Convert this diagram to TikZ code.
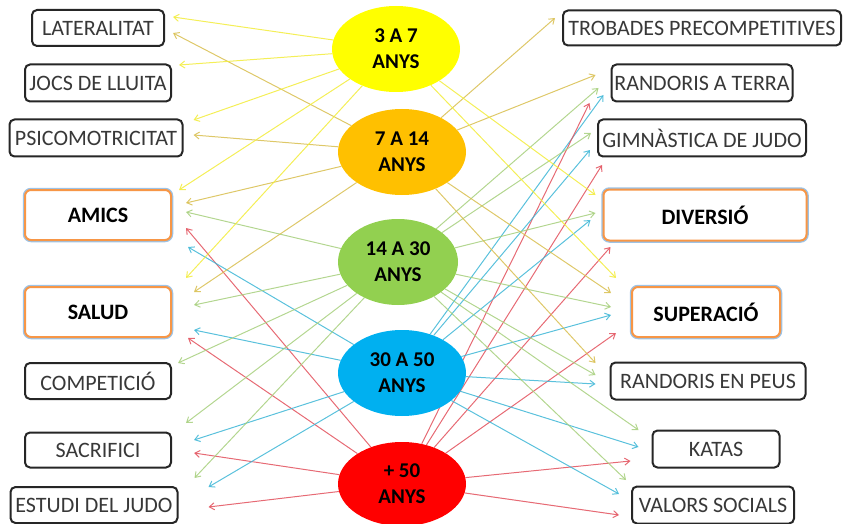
\documentclass[tikz,border=0pt]{standalone}
\usepackage{fontspec}
\setmainfont{Carlito}
\usetikzlibrary{positioning, arrows.meta, shapes, calc, backgrounds}
\definecolor{groc}{HTML}{FFFF00}
\definecolor{taronja}{HTML}{FFC000}
\definecolor{verd}{HTML}{92D050}
\definecolor{blau}{HTML}{00B0F0}
\definecolor{vermell}{HTML}{FF0000}
\definecolor{vora}{HTML}{F79646}
\definecolor{halo}{HTML}{9DC3E6}
\definecolor{lgroc}{HTML}{F2EC3A}
\definecolor{lor}{HTML}{D8BE4E}
\definecolor{lverd}{HTML}{A6CF7C}
\definecolor{lblau}{HTML}{3DB6D6}
\definecolor{lverm}{HTML}{E2505C}

\begin{document}
\begin{tikzpicture}[x=1pt, y=-1pt,
    caixa/.style={draw=black!85, line width=2pt, rounded corners=5pt, fill=white,
      minimum height=36pt, inner sep=0pt, text=black!78, font=\fontsize{22}{24}\selectfont},
    destacat/.style={draw=vora, line width=2pt, rounded corners=6pt, fill=white,
      preaction={draw=halo, line width=4.5pt},
      minimum height=50pt, inner sep=0pt, font=\fontsize{22}{24}\selectfont\bfseries},
    edat/.style={ellipse, inner sep=0pt, minimum width=128pt, minimum height=86pt,
      align=center, font=\fontsize{21}{26}\selectfont\bfseries},
    fletxa/.style={-{Straight Barb[length=5pt, width=7pt]}, line width=1pt, opacity=0.85}]
    \useasboundingbox (0,0) rectangle (854,524);
    % Franges d'edat
    \node[edat, fill=groc] (ed3) at (396,49) {3 A 7\\ANYS};
    \node[edat, fill=taronja] (ed7) at (402,152) {7 A 14\\ANYS};
    \node[edat, fill=verd, minimum width=120pt] (ed14) at (398,262) {14 A 30\\ANYS};
    \node[edat, fill=blau] (ed30) at (402,373) {30 A 50\\ANYS};
    \node[edat, fill=vermell, minimum height=84pt] (ed50) at (402,484) {+ 50\\ANYS};
    % Columna esquerra
    \node[caixa, minimum width=132pt] (lat) at (98,28) {LATERALITAT};
    \node[caixa, minimum width=146pt, minimum height=37pt] (jocs) at (98,83) {JOCS DE LLUITA};
    \node[caixa, minimum width=173pt, minimum height=37pt] (psico) at (96,138) {PSICOMOTRICITAT};
    \node[destacat, minimum width=146pt] (amics) at (98,215) {AMICS};
    \node[destacat, minimum width=146pt] (salud) at (98,312) {SALUD};
    \node[caixa, minimum width=146pt] (comp) at (98,381) {COMPETICIÓ};
    \node[caixa, minimum width=146pt, minimum height=35pt] (sacr) at (98,450) {SACRIFICI};
    \node[caixa, minimum width=167pt] (estudi) at (94,505) {ESTUDI DEL JUDO};
    % Columna dreta
    \node[caixa, minimum width=278pt, minimum height=35pt] (trob) at (702,28) {TROBADES PRECOMPETITIVES};
    \node[caixa, minimum width=181pt, minimum height=37pt] (rtat) at (702,83) {RANDORIS A TERRA};
    \node[caixa, minimum width=208pt, minimum height=37pt] (gim) at (702,138) {GIMNÀSTICA DE JUDO};
    \node[destacat, minimum width=203pt, minimum height=51pt] (div) at (705,215) {DIVERSIÓ};
    \node[destacat, minimum width=148pt] (sup) at (706,312) {SUPERACIÓ};
    \node[caixa, minimum width=195pt, minimum height=37pt] (rpeus) at (708,381) {RANDORIS EN PEUS};
    \node[caixa, minimum width=127pt, minimum height=37pt] (katas) at (716,449) {KATAS};
    \node[caixa, minimum width=162pt, minimum height=37pt] (valors) at (713,505) {VALORS SOCIALS};
    \begin{scope}[on background layer]
      % Fletxes cap a l'esquerra
      \foreach \ori/\dest/\dx/\dy/\col in {ed3/lat/8/-11/lgroc, ed7/lat/8/5/lor,
          ed3/jocs/7/-18/lgroc, ed3/psico/10/-18/lgroc, ed7/psico/10/-3/lor,
          ed3/amics/7/-25/lgroc, ed7/amics/14/-12/lor, ed14/amics/14/-3/lverd,
          ed50/amics/14/13/lverm, ed30/amics/16/32/lblau,
          ed3/salud/14/-34/lgroc, ed7/salud/22/-20/lor, ed14/salud/22/-7/lverd,
          ed30/salud/22/18/lblau, ed50/salud/16/26/lverm,
          ed14/comp/6/-18/lverd, ed14/sacr/14/-27/lverd, ed30/sacr/22/-10/lblau,
          ed50/sacr/22/3/lverm, ed14/estudi/16/-27/lverd, ed30/estudi/30/-18/lblau,
          ed50/estudi/30/2/lverm}
        \draw[fletxa, \col] (\ori) -- ($(\dest.east)+(\dx,\dy)$);
      % Fletxes cap a la dreta
      \foreach \ori/\dest/\dx/\dy/\col in {ed7/trob/-7/-10/lor, ed7/rtat/-15/-8/lor,
          ed14/rtat/-12/5/lverd, ed30/rtat/-7/12/lblau, ed50/rtat/-21/20/lverm,
          ed14/gim/-6/-5/lverd, ed30/gim/-7/12/lblau, ed50/gim/5/27/lverm,
          ed3/div/-7/-20/lgroc, ed14/div/-7/-2/lverd, ed30/div/-12/5/lblau,
          ed50/div/8/32/lverm, ed3/sup/-15/-34/lgroc, ed7/sup/-20/-19/lor,
          ed14/sup/-20/-5/lverd, ed30/sup/-20/3/lblau, ed50/sup/-15/21/lverm,
          ed7/rpeus/-14/-18/lor, ed14/rpeus/-14/-6/lverd, ed30/rpeus/-14/3/lblau,
          ed14/katas/-13/-19/lverd, ed30/katas/-13/-2/lblau, ed50/katas/-21/12/lverm,
          ed14/valors/-5/-25/lverd, ed30/valors/-12/-11/lblau, ed50/valors/-12/10/lverm}
        \draw[fletxa, \col] (\ori) -- ($(\dest.west)+(\dx,\dy)$);
    \end{scope}
\end{tikzpicture}
\end{document}
